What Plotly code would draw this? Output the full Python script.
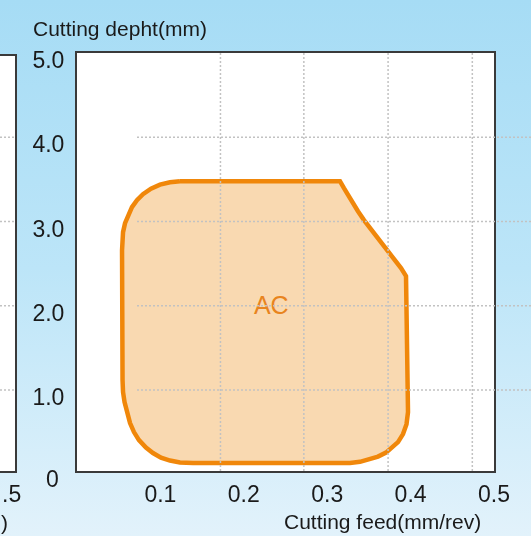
import base64
import plotly.graph_objects as go

# outline of the "AC" application region (feed mm/rev, depth mm)
feed = [0.1235, 0.3153, 0.3201, 0.3249, 0.3309, 0.3369, 0.3441, 0.3525, 0.3621, 0.3717,
        0.3813, 0.3885, 0.3945,
        0.3969, 0.3969, 0.3951, 0.3909, 0.3849, 0.3777, 0.3705, 0.3609, 0.3501, 0.3393,
        0.3273, 0.3153,
        0.1391, 0.1235, 0.1115, 0.1007, 0.0911, 0.0827, 0.0743, 0.0683, 0.0636, 0.0600,
        0.0570, 0.0552, 0.0546,
        0.0540, 0.0540, 0.0552, 0.0576, 0.0612, 0.0659, 0.0719, 0.0791, 0.0887, 0.0995,
        0.1115, 0.1235]
depth = [3.479, 3.479, 3.396, 3.313, 3.218, 3.123, 3.017, 2.910, 2.791, 2.673,
         2.548, 2.447, 2.352,
         0.881, 0.739, 0.596, 0.478, 0.383, 0.312, 0.258, 0.211, 0.176, 0.149,
         0.136, 0.134,
         0.135, 0.142, 0.164, 0.199, 0.253, 0.318, 0.407, 0.502, 0.609, 0.727,
         0.858, 0.976, 1.119,
         2.660, 2.767, 2.874, 2.981, 3.076, 3.171, 3.254, 3.325, 3.390, 3.438,
         3.467, 3.479]
region_name = "AC"
label_feed, label_depth = 0.233, 1.98

x_ticks = [0.1, 0.2, 0.3, 0.4, 0.5]
x_ticktext = ["0.1", "0.2", "0.3", "0.4", "0.5"]
y_ticks = [1, 2, 3, 4, 5]
y_ticktext = ["1.0", "2.0", "3.0", "4.0", "5.0"]
grid_feed = [0.172, 0.272, 0.373, 0.474]
grid_depth = [1, 2, 3, 4]

W, H = 531, 536
FONT = "Liberation Sans, Arial, sans-serif"
ORANGE = "#f0870a"
GRID = "#c2c2c2"


def px(x):
    return x / W


def py(y):
    return 1 - y / H


# sky-blue gradient backdrop
svg = ('<svg xmlns="http://www.w3.org/2000/svg" width="10" height="100" preserveAspectRatio="none">'
       '<defs><linearGradient id="g" x1="0" y1="0" x2="0" y2="1">'
       '<stop offset="0" stop-color="#a6dcf5"/><stop offset="0.5" stop-color="#bce5f8"/>'
       '<stop offset="1" stop-color="#e2f2fb"/></linearGradient></defs>'
       '<rect width="10" height="100" fill="url(#g)"/></svg>')
bg_uri = "data:image/svg+xml;base64," + base64.b64encode(svg.encode()).decode()

fig = go.Figure()
fig.add_trace(go.Scatter(
    x=feed, y=depth, mode="lines", fill="toself",
    fillcolor="#f9d9b1", line=dict(color=ORANGE, width=4.5),
    hoverinfo="skip", showlegend=False,
))
fig.add_trace(go.Scatter(
    x=[label_feed], y=[label_depth], mode="text", text=[region_name],
    textfont=dict(family=FONT, size=25, color="#e8841e"),
    hoverinfo="skip", showlegend=False,
))

# white plot face, drawn above the gradient image but under the traces
shapes = [dict(type="rect", xref="x domain", yref="y domain", x0=0, x1=1, y0=0, y1=1,
               fillcolor="white", line=dict(width=0), layer="below")]
# vertical dotted grid inside the plot
for g in grid_feed:
    shapes.append(dict(type="line", xref="x", yref="y domain", x0=g, x1=g, y0=0, y1=1,
                       line=dict(color=GRID, width=1.5, dash="2px,2px"), layer="above"))
# horizontal dotted grid running out past the right border
for g in grid_depth:
    shapes.append(dict(type="line", xref="paper", yref="y", x0=px(137), x1=1, y0=g, y1=g,
                       line=dict(color=GRID, width=1.5, dash="2px,2px"), layer="above"))

# sliver of the neighbouring chart on the left edge
shapes.append(dict(type="rect", xref="paper", yref="paper", x0=px(-5), x1=px(16),
                   y0=py(472), y1=py(55), fillcolor="white",
                   line=dict(color="#3a3a3a", width=2), layer="above"))
for g in grid_depth:
    shapes.append(dict(type="line", xref="paper", yref="y", x0=0, x1=px(14), y0=g, y1=g,
                       line=dict(color=GRID, width=1.5, dash="2px,2px"), layer="above"))

annotations = [
    dict(text="Cutting depht(mm)", xref="paper", yref="paper", x=px(31), y=py(28),
         xanchor="left", yanchor="middle", showarrow=False,
         font=dict(family=FONT, size=21, color="#1a1a1a")),
    dict(text="Cutting feed(mm/rev)", xref="paper", yref="paper", x=px(483), y=py(521),
         xanchor="right", yanchor="middle", showarrow=False,
         font=dict(family=FONT, size=21, color="#1a1a1a")),
    dict(text="0", xref="paper", yref="paper", x=px(52), y=py(479),
         xanchor="center", yanchor="middle", showarrow=False,
         font=dict(family=FONT, size=23, color="#1a1a1a")),
    dict(text=".5", xref="paper", yref="paper", x=px(23), y=py(494),
         xanchor="right", yanchor="middle", showarrow=False,
         font=dict(family=FONT, size=23, color="#1a1a1a")),
    dict(text=")", xref="paper", yref="paper", x=px(-1), y=py(522),
         xanchor="left", yanchor="middle", showarrow=False,
         font=dict(family=FONT, size=21, color="#1a1a1a")),
]

fig.update_layout(
    width=W, height=H,
    margin=dict(l=0, r=0, t=0, b=0),
    paper_bgcolor="rgba(0,0,0,0)",
    plot_bgcolor="white",
    font=dict(family=FONT, color="#1a1a1a"),
    xaxis=dict(
        domain=[px(77), px(494)], range=[0, 0.5], automargin=False,
        tickvals=x_ticks, ticktext=x_ticktext, tickfont=dict(size=23),
        showgrid=False, zeroline=False, ticks="", ticklabelstandoff=1,
        showline=True, mirror=True, linecolor="#3a3a3a", linewidth=2,
    ),
    yaxis=dict(
        domain=[py(471), py(53)], range=[0.04, 5.0], automargin=False,
        tickvals=y_ticks, ticktext=y_ticktext, tickfont=dict(size=23),
        showgrid=False, zeroline=False, ticks="", ticklabelstandoff=6, ticklabelshift=7,
        showline=True, mirror=True, linecolor="#3a3a3a", linewidth=2,
    ),
    shapes=shapes,
    annotations=annotations,
    images=[dict(source=bg_uri, xref="paper", yref="paper", x=0, y=1, sizex=1, sizey=1,
                 xanchor="left", yanchor="top", sizing="stretch", layer="below")],
    showlegend=False,
)

# pin the chart to the window corner so the page has no body margin around it
pin = ("document.body.style.margin='0';"
       "var d=document.getElementById('{plot_id}');"
       "d.style.position='fixed';d.style.left='0';d.style.top='0';")
fig.write_html("out.html", post_script=pin, config={"displayModeBar": False})
